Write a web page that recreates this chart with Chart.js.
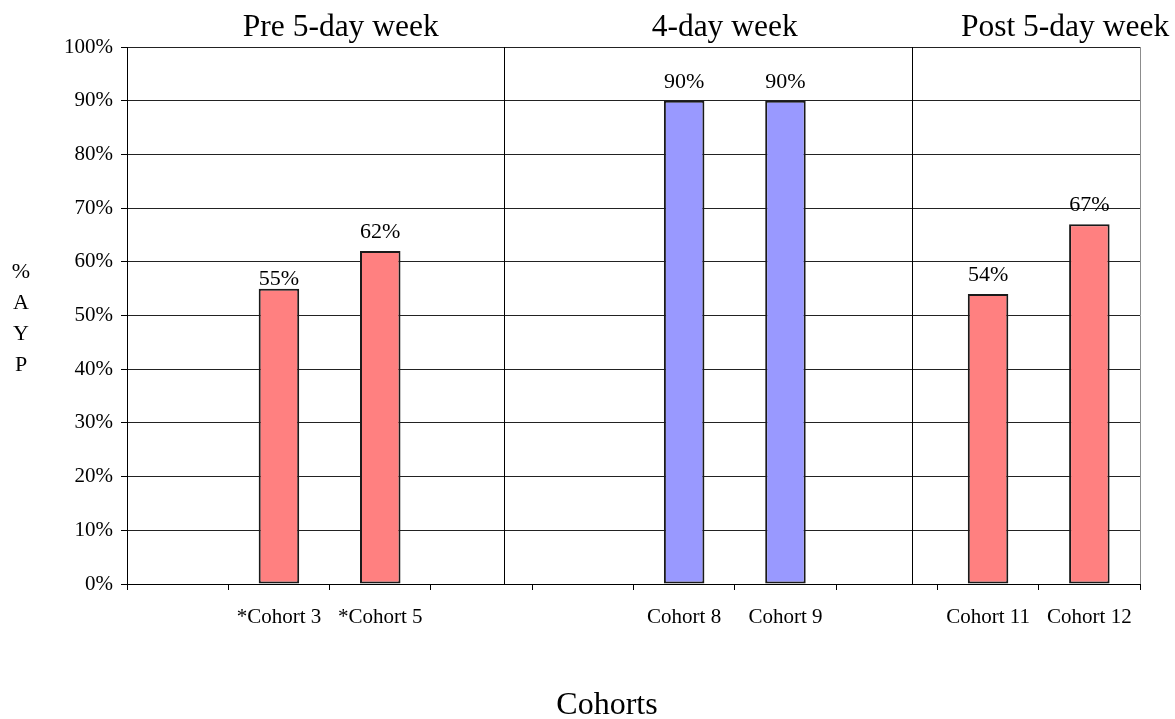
<!DOCTYPE html>
<html>
<head>
<meta charset="utf-8">
<script src="https://cdn.jsdelivr.net/npm/chart.js@4/dist/chart.umd.min.js"></script>
<style>
  html, body { margin: 0; padding: 0; background: #fff; }
  #wrap { width: 1175px; height: 719px; }
</style>
</head>
<body>
<div id="wrap"><canvas id="c" width="1175" height="719"></canvas></div>
<script>
// Cohort categories along the x axis (blank slots keep the group spacing)
const categories = ["", "*Cohort 3", "*Cohort 5", "", "", "Cohort 8", "Cohort 9", "", "Cohort 11", "Cohort 12"];
// % AYP per cohort
const aypValues = [null, 55, 62, null, null, 90, 90, null, 54, 67];
// Which schedule each cohort belongs to
const schedule = ["", "pre", "pre", "", "", "four", "four", "", "post", "post"];
// Group headings across the top
const groupTitles = ["Pre 5-day week", "4-day week", "Post 5-day week"];
// Y axis ticks
const yTicks = [0, 10, 20, 30, 40, 50, 60, 70, 80, 90, 100];

const SERIF = '"Liberation Serif", "Times New Roman", serif';
const RED = '#FF8080';
const BLUE = '#9999FF';

// heading centres and divider positions, in category-index units
const titleAt = [1.61, 5.40, 8.76];
const dividerAt = [3.22, 7.25];
// gap between a bar top and its value label (the 55% label sits lower, clear of the 60% line)
const labelGap = [0, 4, 13, 0, 0, 13, 13, 0, 13, 13];

const decorations = {
  id: 'decorations',
  afterDatasetsDraw(chart) {
    const { ctx, chartArea: a, scales: { x, y } } = chart;
    ctx.save();

    // right frame edge
    ctx.strokeStyle = '#8c8c8c';
    ctx.lineWidth = 1;
    ctx.beginPath();
    ctx.moveTo(Math.round(a.right) + 0.5, a.top);
    ctx.lineTo(Math.round(a.right) + 0.5, a.bottom);
    ctx.stroke();

    // group dividers
    ctx.strokeStyle = '#000';
    dividerAt.forEach(v => {
      const px = Math.round(x.getPixelForValue(v)) + 0.5;
      ctx.beginPath();
      ctx.moveTo(px, a.top);
      ctx.lineTo(px, a.bottom);
      ctx.stroke();
    });

    // group headings
    ctx.fillStyle = '#000';
    ctx.font = '31.5px ' + SERIF;
    ctx.textAlign = 'center';
    ctx.textBaseline = 'alphabetic';
    groupTitles.forEach((t, i) => {
      ctx.fillText(t, x.getPixelForValue(titleAt[i]), 36);
    });

    // value labels above bars
    ctx.font = '22px ' + SERIF;
    const meta = chart.getDatasetMeta(0);
    meta.data.forEach((bar, i) => {
      const v = aypValues[i];
      if (v == null) return;
      ctx.fillText(v + '%', bar.x, bar.y - labelGap[i]);
    });

    // y axis title, one letter per line
    ctx.font = '22px ' + SERIF;
    ['%', 'A', 'Y', 'P'].forEach((ch, i) => {
      ctx.fillText(ch, 21, 278 + i * 31);
    });

    // x axis title
    ctx.font = '32px ' + SERIF;
    ctx.fillText('Cohorts', 607, 714);

    ctx.restore();
  }
};

new Chart(document.getElementById('c'), {
  type: 'bar',
  data: {
    labels: categories,
    datasets: [{
      data: aypValues,
      backgroundColor: schedule.map(s => s === 'four' ? BLUE : RED),
      borderColor: '#1a1a1a',
      borderWidth: 2,
      borderSkipped: false,
      barPercentage: 0.4,
      categoryPercentage: 1.0
    }]
  },
  options: {
    responsive: false,
    animation: false,
    layout: { padding: { left: 0, right: 35, top: 47, bottom: 0 } },
    plugins: {
      legend: { display: false },
      tooltip: { enabled: false },
      title: { display: false }
    },
    scales: {
      x: {
        offset: true,
        afterFit(s) { s.height = 135; },
        grid: {
          offset: true,
          drawOnChartArea: false,
          drawTicks: true,
          tickLength: 6,
          color: '#000'
        },
        border: { display: true, color: '#000', width: 1 },
        ticks: {
          color: '#000',
          font: { family: SERIF, size: 21 },
          padding: 15,
          maxRotation: 0,
          autoSkip: false
        }
      },
      y: {
        min: 0,
        max: 100,
        afterFit(s) { s.width = 127; },
        afterBuildTicks(s) { s.ticks = yTicks.map(v => ({ value: v })); },
        grid: {
          color: '#222',
          drawTicks: true,
          tickLength: 6,
          tickColor: '#000'
        },
        border: { display: true, color: '#000', width: 1 },
        ticks: {
          color: '#000',
          font: { family: SERIF, size: 21 },
          padding: 8,
          callback: v => v + '%'
        }
      }
    }
  },
  plugins: [decorations]
});
</script>
</body>
</html>
